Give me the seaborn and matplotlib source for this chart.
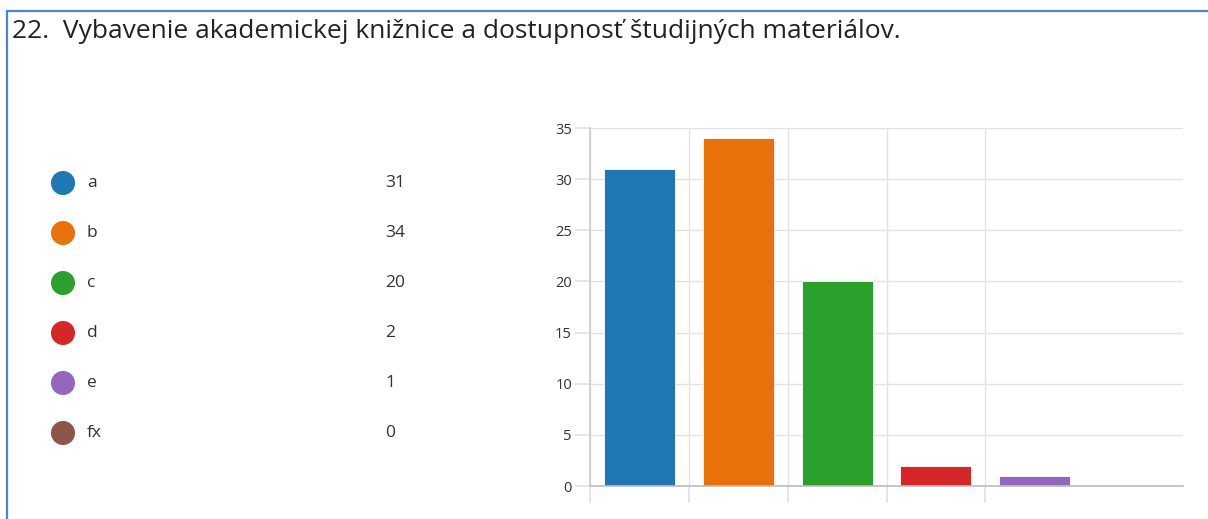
import numpy as np
import pandas as pd
import matplotlib
matplotlib.use("Agg")
import matplotlib.pyplot as plt
from matplotlib.lines import Line2D
import seaborn as sns

# -------------------------
# Data
# -------------------------
title = "22.  Vybavenie akademickej knižnice a dostupnosť študijných materiálov."
categories = ["a", "b", "c", "d", "e", "fx"]
counts = [31, 34, 20, 2, 1, 0]
colors = ["#1f77b4", "#e8710a", "#2ca02c", "#d62728", "#9467bd", "#8c564b"]
y_ticks = [0, 5, 10, 15, 20, 25, 30, 35]

df = pd.DataFrame({"option": categories, "count": counts})

# -------------------------
# Figure
# -------------------------
sns.set_theme(style="white")
plt.rcParams["font.family"] = ["Open Sans", "DejaVu Sans"]

W, H = 1208, 519
fig = plt.figure(figsize=(W / 100, H / 100), dpi=100)

# legend area drawn in pixel space
ax_leg = fig.add_axes([0, 0, 1, 1])
ax_leg.set_xlim(0, W)
ax_leg.set_ylim(H, 0)
ax_leg.axis("off")
row_y = 183 + 50 * np.arange(len(categories))
ax_leg.scatter(np.full(len(categories), 63), row_y, s=300, c=colors, linewidths=0)
for yy, lab, val in zip(row_y, categories, counts):
    ax_leg.text(87, yy, lab, fontsize=12.5, color="#333333", va="center")
    ax_leg.text(385, yy, str(val), fontsize=12.5, color="#333333", va="center")

# frame lines (blue border at top and left)
fig.add_artist(Line2D([7 / W, 1], [1 - 11 / H, 1 - 11 / H], color="#4f81d9", lw=1.6))
fig.add_artist(Line2D([7 / W, 7 / W], [0, 1 - 11 / H], color="#4f81d9", lw=1.6))

fig.text(12 / W, 1 - 32 / H, title, fontsize=19, color="#222222", va="center", ha="left")

# bar chart
ax = fig.add_axes([590 / W, 1 - 486 / H, 593 / W, 358 / H])
sns.barplot(data=df, x="option", y="count", hue="option", palette=colors,
            order=categories, width=0.72, saturation=1, legend=False, ax=ax,
            edgecolor="white", linewidth=0.6)
ax.set_xlim(-0.5, len(categories) - 0.5)
ax.set_ylim(0, 35)
ax.set_yticks(y_ticks)
ax.set_xticks(np.arange(len(categories) - 1) - 0.5)
ax.set_xticklabels([])
ax.set_xlabel("")
ax.set_ylabel("")
ax.grid(True, color="#e3e3e3", lw=1)
ax.set_axisbelow(True)
ax.tick_params(axis="y", length=11, color="#e3e3e3", labelsize=10.5, labelcolor="#333333", pad=2, left=True)
ax.tick_params(axis="x", length=12, color="#e3e3e3", bottom=True)
for side in ["top", "right"]:
    ax.spines[side].set_visible(False)
ax.spines["left"].set_color("#cccccc")
ax.spines["bottom"].set_color("#bdbdbd")
ax.spines["bottom"].set_linewidth(1.2)

fig.savefig("out.png", dpi=100)
